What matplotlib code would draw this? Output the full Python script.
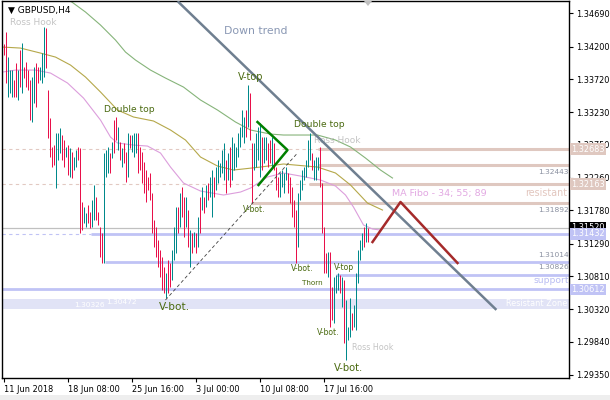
import matplotlib
matplotlib.use('Agg')
import matplotlib.pyplot as plt
from matplotlib.patches import Rectangle, Polygon

# ---------------- data (GBPUSD H4, bar index 0 = 11 Jun 2018 00:00) ----------------
highs = [1.3424,1.3441,1.3404,1.3385,1.3385,1.3370,1.3396,1.3385,1.3415,1.3425,
         1.3390,1.3397,1.3385,1.3370,1.3375,1.3390,1.3396,1.3390,1.3390,1.3410,
         1.3449,1.3447,1.3356,1.3314,1.3272,1.3275,1.3292,1.3292,1.3300,1.3289,
         1.3282,1.3272,1.3275,1.3270,1.3264,1.3257,1.3267,1.3272,1.3270,1.3190,
         1.3183,1.3174,1.3186,1.3176,1.3193,1.3215,1.3198,1.3176,1.3153,1.3145,
         1.3263,1.3267,1.3272,1.3263,1.3279,1.3311,1.3316,1.3301,1.3279,1.3270,
         1.3278,1.3264,1.3292,1.3289,1.3289,1.3292,1.3292,1.3292,1.3272,1.3264,
         1.3249,1.3238,1.3227,1.3233,
         1.3204,1.3164,1.3153,1.3134,1.3119,1.3109,1.3094,1.3086,1.3105,1.3100,
         1.3119,1.3153,1.3183,1.3183,1.3204,1.3213,1.3198,1.3198,1.3179,1.3149,
         1.3145,1.3146,1.3145,1.3168,1.3198,1.3213,1.3198,1.3215,1.3218,1.3227,
         1.3238,1.3227,1.3242,1.3252,1.3248,1.3267,1.3278,1.3252,1.3263,1.3272,
         1.3286,1.3278,1.3272,1.3292,1.3301,1.3326,1.3316,1.3326,1.3363,1.3351,
         1.3278,1.3278,1.3292,1.3301,1.3307,1.3286,1.3286,1.3286,1.3278,1.3282,
         1.3286,1.3278,1.3242,1.3227,1.3233,1.3238,1.3233,1.3242,1.3233,1.3227,
         1.3213,1.3193,1.3179,1.3204,1.3223,1.3238,1.3242,1.3252,1.3282,1.3292,
         1.3263,1.3252,1.3257,1.3257,1.3272,1.3218,1.3153,1.3115,1.3117,1.3117,
         1.3065,1.3080,1.3083,1.3086,1.3083,1.3080,1.3075,1.3046,1.3006,1.3049,
         1.3026,1.3038,1.3086,1.3119,1.3134,1.3145,1.3153,1.3159,1.3152]
lows = [1.3407,1.3366,1.3345,1.3351,1.3345,1.3345,1.3345,1.3341,1.3360,1.3351,
        1.3373,1.3360,1.3356,1.3311,1.3309,1.3337,1.3331,1.3366,1.3370,1.3366,
        1.3375,1.3388,1.3285,1.3257,1.3242,1.3245,1.3211,1.3252,1.3263,1.3252,
        1.3242,1.3257,1.3230,1.3227,1.3226,1.3238,1.3242,1.3252,1.3145,1.3149,
        1.3159,1.3153,1.3159,1.3152,1.3153,1.3164,1.3164,1.3156,1.3109,1.3100,
        1.3100,1.3227,1.3233,1.3233,1.3255,1.3263,1.3282,1.3267,1.3252,1.3242,
        1.3248,1.3220,1.3227,1.3270,1.3264,1.3257,1.3263,1.3233,1.3238,1.3218,
        1.3204,1.3190,1.3208,1.3193,
        1.3145,1.3124,1.3109,1.3094,1.3080,1.3060,1.3056,1.3049,1.3056,1.3065,
        1.3075,1.3105,1.3115,1.3145,1.3153,1.3168,1.3139,1.3153,1.3124,1.3094,
        1.3115,1.3124,1.3115,1.3124,1.3145,1.3179,1.3174,1.3183,1.3193,1.3198,
        1.3168,1.3198,1.3208,1.3218,1.3227,1.3233,1.3223,1.3204,1.3223,1.3213,
        1.3223,1.3238,1.3242,1.3257,1.3272,1.3286,1.3278,1.3286,1.3301,1.3282,
        1.3189,1.3238,1.3242,1.3252,1.3227,1.3238,1.3248,1.3252,1.3242,1.3248,
        1.3242,1.3238,1.3208,1.3198,1.3198,1.3213,1.3204,1.3223,1.3204,1.3189,
        1.3168,1.3153,1.3100,1.3124,1.3193,1.3208,1.3223,1.3227,1.3242,1.3252,
        1.3238,1.3223,1.3223,1.3238,1.3213,1.3145,1.3086,1.3086,1.3080,1.3006,
        1.3016,1.3012,1.3056,1.3060,1.3056,1.3035,1.2982,1.2957,1.2987,1.2991,
        1.3001,1.3006,1.3001,1.3071,1.3105,1.3119,1.3124,1.3131,1.3131]
# U = bullish bar, D = bearish bar
dirs = ("DDUUUDDUDU" "DDDDUUDDUU" "UDDDDDUUUD" "DUDUDUUDDD" "UUDDUUDDDD"
        "UUUDUDDUDU" "DDUDUUUDDD" "DDDD"
        "DDDDDDDUDD" "UUUDUDDUDU" "DUDUDUDUDU" "UDUUUUUDUD" "UUUUUUUDUD"
        "DUUUUDUUDD" "UDDDUUUUDD" "DDDUUUUUUU" "DUUUDDDDUD" "DUUUDUDUUU"
        "DUUUUUDUD")

tick_pos = [0, 32, 64, 96, 128, 160]
tick_lab = ['11 Jun 2018', '18 Jun 08:00', '25 Jun 16:00', '3 Jul 00:00', '10 Jul 08:00', '17 Jul 16:00']
price_ticks = [1.34690, 1.34200, 1.33720, 1.33230, 1.32750, 1.32260, 1.31780, 1.31290,
               1.30810, 1.30320, 1.29840, 1.29350]

# moving averages (MA Fibo 34 / 55 / 89, displaced), read at bar indices
ma89_x = [33.5,41,48.5,56,61,66,73.5,81,90,98.5,107,116,123.5,133.5,140,148.5,157,166,173.5,181,188.5,194.5]
ma89_y = [1.34871,1.34709,1.34517,1.34295,1.34118,1.34000,1.33852,1.33734,1.33601,1.33410,1.33262,1.33085,
          1.32967,1.32907,1.32893,1.32893,1.32893,1.32819,1.32716,1.32553,1.32376,1.32258]
ma55_x = [-0.5,8.5,18.5,26,33.5,41,48.5,57,65,75,83.5,91,98.5,107,115,128.5,140,157,166,173.5,182,189.5]
ma55_y = [1.34192,1.34177,1.34103,1.34044,1.33926,1.33749,1.33528,1.33262,1.33159,1.33100,1.32967,1.32819,
          1.32568,1.32435,1.32376,1.32420,1.32465,1.32420,1.32332,1.32155,1.31888,1.31785]
ma34_x = [-0.5,6,16,23.5,32,40,48.5,53.5,57,65,72,78.5,83.5,90,98.5,110,118.5,123.5,132,140,148.5,158.5,
          166,171,175,180,184.5,188.5]
ma34_y = [1.33823,1.33852,1.33852,1.33808,1.33661,1.33439,1.33114,1.32863,1.32775,1.32745,1.32730,1.32627,
          1.32420,1.32184,1.32066,1.32007,1.32051,1.32110,1.32273,1.32332,1.32287,1.32229,1.32140,1.32007,
          1.31829,1.31564,1.31505,1.31490]

bid = 1.31520
zone_lo, zone_hi = 1.30326, 1.30472

# ---------------- figure ----------------
W, H = 610, 400
fig = plt.figure(figsize=(6.1, 4.0), dpi=100)
L, R, T, B = 2, 569, 1, 378
ax = fig.add_axes([L / W, 1 - B / H, (R - L) / W, (B - T) / H])
XMIN, XMAX = -0.75, 282.75
ax.set_ylim(1.29305, 1.34872)
ax.set_xlim(XMIN, XMAX)

RED, TEAL = '#e8104a', '#00898b'
TAN, LAV = '#dfc8c0', '#c0c3f5'

ax.add_patch(Rectangle((XMIN, zone_lo), XMAX - XMIN, zone_hi - zone_lo, facecolor='#e1e3f6',
                       edgecolor='none', zorder=1))

for lvl in (1.32683, 1.32163):
    ax.axhline(lvl, color='#e2c9c2', lw=0.8, ls=(0, (3, 3)), zorder=1)
ax.axhline(bid, color='#c0c0c0', lw=0.9, zorder=1)
ax.plot([XMIN, 43.5], [1.31432, 1.31432], color=LAV, lw=0.8, ls=(0, (3, 3)), zorder=1)
for lvl, x0 in ((1.32683, 157), (1.32443, 157), (1.32163, 152.5), (1.31892, 123.5)):
    ax.plot([x0, XMAX], [lvl, lvl], color=TAN, lw=2.2, solid_capstyle='butt', zorder=1)
for lvl, x0 in ((1.31432, 43.5), (1.31014, 50.5), (1.30826, 166), (1.30612, XMIN)):
    ax.plot([x0, XMAX], [lvl, lvl], color=LAV, lw=2.0, solid_capstyle='butt', zorder=1)

ax.plot(ma89_x, ma89_y, color='#86b47a', lw=0.8, zorder=2)
ax.plot(ma55_x, ma55_y, color='#b5a84a', lw=0.8, zorder=2)
ax.plot(ma34_x, ma34_y, color='#dc9edc', lw=0.8, zorder=2)

n = min(len(highs), len(lows), len(dirs))
idx = list(range(n))
cols = [TEAL if d == 'U' else RED for d in dirs[:n]]
ax.vlines(idx, lows[:n], highs[:n], colors=cols, lw=0.72, zorder=3)

# drawn objects
ax.plot([87.5, 246], [1.34856, 1.30324], color='#6f7f90', lw=1.8, zorder=4)
ax.plot([184.5, 198.5, 227], [1.31313, 1.31904, 1.31003], color='#a52a2a', lw=1.8, zorder=4)
ax.plot([127, 142, 127.5], [1.33085, 1.32671, 1.32155], color='#008000', lw=1.8, zorder=4)
ax.plot([81, 147], [1.30457, 1.32627], color='#404040', lw=0.6, ls=(0, (4, 3)), zorder=4)

GL = '#4a6a10'
def lab(i, p, s, size, color=GL, ha='left', z=5):
    ax.text(i, p, s, fontsize=size, color=color, ha=ha, va='center', zorder=z)

lab(50, 1.33277, 'Double top', 6.6)
lab(117, 1.33749, 'V-top', 7)
lab(145, 1.33055, 'Double top', 6.6)
lab(119.5, 1.31800, 'V-bot.', 5.6)
lab(77.5, 1.30353, 'V-bot.', 7.6)
lab(143.5, 1.30929, 'V-bot.', 5.6)
lab(165, 1.30944, 'V-top', 5.6)
lab(149.5, 1.30707, 'Thorn', 5.2)
lab(156.5, 1.29984, 'V-bot.', 5.6)
lab(165, 1.29452, 'V-bot.', 7.2)
lab(3, 1.34561, 'Ross Hook', 6.5, '#c4c4c4')
lab(155, 1.32819, 'Ross Hook', 6.5, '#c4c4c4', z=2.5)
lab(174.5, 1.29748, 'Ross Hook', 5.8, '#c4c4c4')
lab(110, 1.34428, 'Down trend', 7.8, '#8a98b4')
lab(194.5, 1.32036, 'MA Fibo - 34; 55; 89', 6.8, '#e2a8e2')
lab(282, 1.32036, 'resistant', 6.9, '#e2c6be', 'right')
lab(282.5, 1.30752, 'support', 6.6, '#b8bcf2', 'right')
lab(282, 1.30398, 'Resistant Zone', 5.9, 'white', 'right')
lab(35.5, 1.30383, '%.5f' % zone_lo, 5.4, 'white')
lab(51.5, 1.30427, '%.5f' % zone_hi, 5.4, 'white')
PL = '#8a90a0'
lab(282.5, 1.32346, '1.32443', 5.4, PL, 'right')
lab(282.5, 1.31785, '1.31892', 5.4, PL, 'right')
lab(282.5, 1.31121, '1.31014', 5.4, PL, 'right')
lab(282.5, 1.30944, '1.30826', 5.4, PL, 'right')

for s in ax.spines.values():
    s.set_color('black'); s.set_linewidth(1.0)
ax.yaxis.tick_right()
ax.set_yticks(price_ticks)
ax.set_yticklabels(['%.5f' % v for v in price_ticks])
ax.set_xticks(tick_pos)
ax.set_xticklabels(tick_lab, ha='left')
ax.tick_params(axis='y', direction='out', length=3, width=0.8, pad=2, labelsize=5.9, colors='black')
ax.tick_params(axis='x', direction='out', length=3, width=0.8, pad=2, labelsize=5.9, colors='black')

def box(price, s, bg, fg='white'):
    ax.text(1.0035, price, s, transform=ax.get_yaxis_transform(), fontsize=5.9, color=fg, ha='left',
            va='center', bbox=dict(boxstyle='square,pad=0.18', fc=bg, ec='none'), zorder=10, clip_on=False)
box(1.32683, '1.32683', TAN)
box(1.32163, '1.32163', TAN)
box(bid, '%.5f' % bid, 'black')
box(1.31432, '1.31432', LAV)
box(1.30612, '1.30612', LAV)

fig.text(8 / W, 1 - 10 / H, '\u25bc GBPUSD,H4', fontsize=6.5, color='black', va='center', ha='left')
fig.patches.append(Polygon([[364 / W, 1 - 1 / H], [372 / W, 1 - 1 / H], [368 / W, 1 - 6 / H]], closed=True,
                           transform=fig.transFigure, fc='#c0c0c0', ec='none'))
fig.patches.append(Rectangle((0, 0), 1, 5 / H, transform=fig.transFigure, fc='#eeeeee', ec='none'))

fig.savefig('out.png', dpi=100)
